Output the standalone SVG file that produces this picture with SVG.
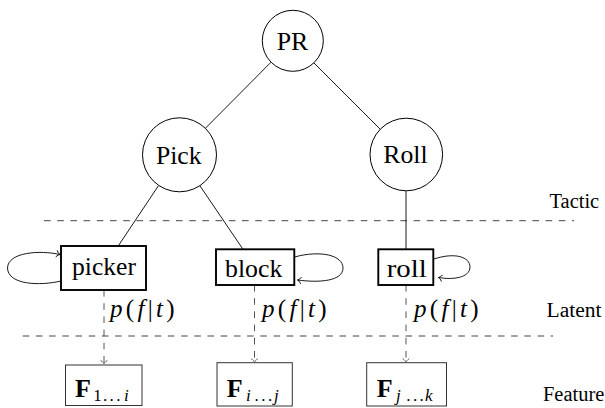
<svg xmlns="http://www.w3.org/2000/svg" width="605" height="408" viewBox="0 0 605 408">
<style>
text{font-family:"Liberation Serif","DejaVu Serif","Noto Serif",serif;fill:#000}
.n{font-size:25.5px;text-anchor:middle}
.lab{font-size:20.5px}
.m{font-size:25px;letter-spacing:3.3px}
.it{font-style:italic}
.fb{font-size:26px;font-weight:bold}
.sub{font-size:17px}
.circ{fill:#fff;stroke:#000;stroke-width:1}
.lat{fill:#fff;stroke:#000;stroke-width:1.9}
.feat{fill:#fff;stroke:#333;stroke-width:1}
.edge{stroke:#000;stroke-width:0.9;fill:none}
.loop{stroke:#000;stroke-width:0.9;fill:none;marker-end:url(#to)}
.dash{stroke:#444;stroke-width:1;stroke-dasharray:6.6 6.6;fill:none}
.emit{stroke:#555;stroke-width:1;stroke-dasharray:6.6 6.6;fill:none;marker-end:url(#tog)}
</style>
<defs>
<marker id="to" markerUnits="userSpaceOnUse" markerWidth="10" markerHeight="10" viewBox="-5 -5 10 10" refX="0" refY="0" orient="auto">
<path d="M-3.6,-3.4 C-2.4,-1 -0.6,-0.3 0,0 C-0.6,0.3 -2.4,1 -3.6,3.4" fill="none" stroke="#000" stroke-width="0.9"/>
</marker>
<marker id="tog" markerUnits="userSpaceOnUse" markerWidth="10" markerHeight="10" viewBox="-5 -5 10 10" refX="0" refY="0" orient="auto">
<path d="M-3.6,-3.4 C-2.4,-1 -0.6,-0.3 0,0 C-0.6,0.3 -2.4,1 -3.6,3.4" fill="none" stroke="#555" stroke-width="0.9"/>
</marker>
</defs>
<rect width="605" height="408" fill="#fff"/>
<g id="layers">
<line class="dash" x1="44" y1="220.7" x2="574" y2="220.7"/>
<line class="dash" x1="22.7" y1="336" x2="553" y2="336"/>
<text class="lab" x="549.5" y="207.5" textLength="49.7" lengthAdjust="spacingAndGlyphs">Tactic</text>
<text class="lab" x="546.5" y="316.5" textLength="55" lengthAdjust="spacingAndGlyphs">Latent</text>
<text class="lab" x="543" y="401" textLength="61.3" lengthAdjust="spacingAndGlyphs">Feature</text>
</g>
<g id="connectors">
<line class="edge" x1="270.9" y1="62.3" x2="205" y2="128.7"/>
<line class="edge" x1="313.2" y1="62.2" x2="380.5" y2="129.5"/>
<line class="edge" x1="158.4" y1="185.8" x2="118.2" y2="246"/>
<line class="edge" x1="199.8" y1="185.6" x2="242.8" y2="249"/>
<line class="edge" x1="406" y1="191" x2="406" y2="249"/>
<path class="loop" d="M61,281 C40,286 8,285 7.5,268 C8,252 40,250 60,254.5"/>
<path class="loop" d="M294.5,257 C320,250 343,255 343,268 C343,281 320,283 297.5,280"/>
<path class="loop" d="M434,259 C455,252 470,257 470,267 C470,278 452,280 438.5,277.5"/>
<line class="emit" x1="104" y1="290" x2="104" y2="364"/>
<line class="emit" x1="254.5" y1="285" x2="254.5" y2="362.3"/>
<line class="emit" x1="406" y1="285" x2="406" y2="362.3"/>
<text class="m" x="110" y="317"><tspan class="it">p</tspan>(<tspan class="it">f</tspan>|<tspan class="it">t</tspan>)</text>
<text class="m" x="262" y="317"><tspan class="it">p</tspan>(<tspan class="it">f</tspan>|<tspan class="it">t</tspan>)</text>
<text class="m" x="414" y="317"><tspan class="it">p</tspan>(<tspan class="it">f</tspan>|<tspan class="it">t</tspan>)</text>
</g>
<g id="node-PR">
<circle class="circ" cx="292.8" cy="40.8" r="30.5"/>
<text class="n" x="292.5" y="49.8" textLength="31.6" lengthAdjust="spacingAndGlyphs">PR</text>
</g>
<g id="node-Pick">
<circle class="circ" cx="179.5" cy="154.8" r="37"/>
<text class="n" x="178.8" y="163.5" textLength="45.7" lengthAdjust="spacingAndGlyphs">Pick</text>
</g>
<g id="node-Roll">
<circle class="circ" cx="406.3" cy="154.5" r="36.3"/>
<text class="n" x="405.5" y="163.3" textLength="44.3" lengthAdjust="spacingAndGlyphs">Roll</text>
</g>
<g id="node-picker">
<rect class="lat" x="61" y="246" width="85" height="44"/>
<text class="n" x="104" y="275" textLength="64" lengthAdjust="spacingAndGlyphs">picker</text>
</g>
<g id="node-block">
<rect class="lat" x="216" y="249.3" width="78.3" height="35.7"/>
<text class="n" x="253.7" y="276.7" textLength="57.3" lengthAdjust="spacingAndGlyphs">block</text>
</g>
<g id="node-roll">
<rect class="lat" x="378.3" y="249.3" width="55" height="35.7"/>
<text class="n" x="406.7" y="276.7" textLength="40" lengthAdjust="spacingAndGlyphs">roll</text>
</g>
<g id="node-F1">
<rect class="feat" x="65.5" y="365" width="76.5" height="40.5"/>
<text y="397"><tspan class="fb" x="75">F</tspan><tspan class="sub" x="93.3 103 109.6 116.2 124" y="400.5">1...<tspan class="it">i</tspan></tspan></text>
</g>
<g id="node-F2">
<rect class="feat" x="217" y="362.7" width="75.3" height="43.3"/>
<text y="397"><tspan class="fb" x="226.7">F</tspan><tspan class="sub it" x="246" y="400.5">i</tspan><tspan class="sub" x="254.6 261.2 267.9" y="400.5">...</tspan><tspan class="sub it" x="274" y="400.5">j</tspan></text>
</g>
<g id="node-F3">
<rect class="feat" x="366.7" y="362.7" width="79.8" height="43.3"/>
<text y="397"><tspan class="fb" x="376.7">F</tspan><tspan class="sub it" x="396" y="400.5">j</tspan><tspan class="sub" x="406.2 412.9 419.6" y="400.5">...</tspan><tspan class="sub it" x="425" y="400.5">k</tspan></text>
</g>
</svg>
